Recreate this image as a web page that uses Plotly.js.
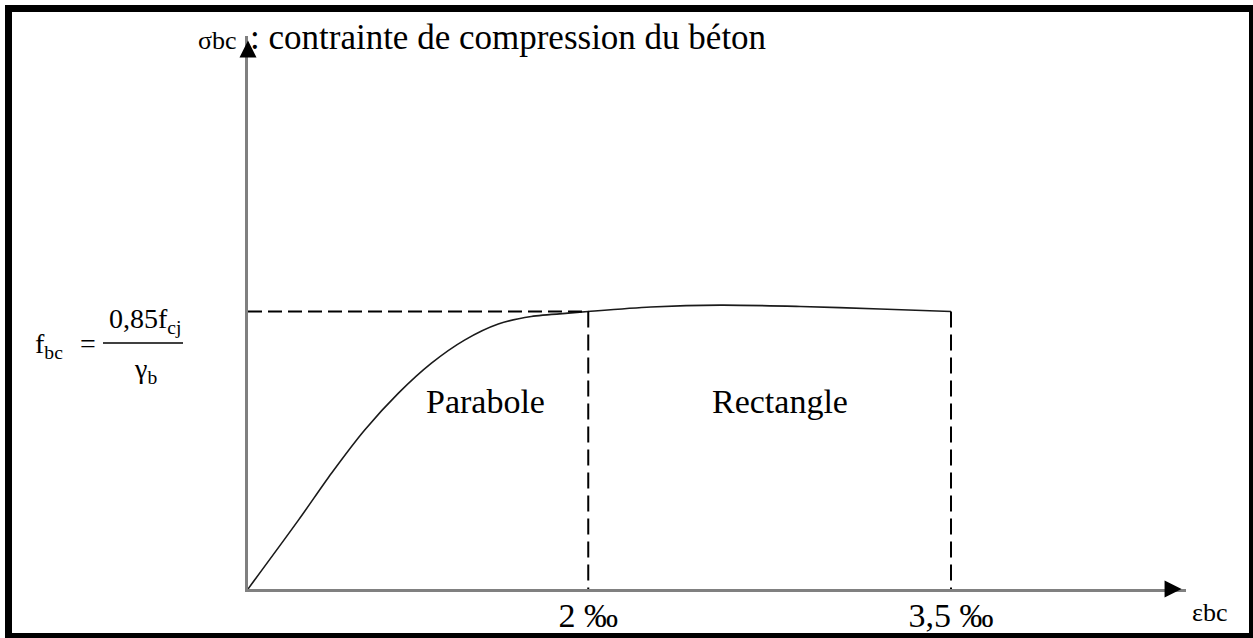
<!DOCTYPE html>
<html>
<head>
<meta charset="utf-8">
<script src="https://cdn.plot.ly/plotly-3.0.1.min.js"></script>
<style>
  html, body { margin: 0; padding: 0; background: #ffffff; }
  #chart { width: 1253px; height: 638px; }
</style>
</head>
<body>
<div id="chart"></div>
<script>
// ---- data (strain axis in drawing units: 3,5 ‰ end = 1) ----
const strainPos = [0, 0.072, 0.119, 0.166, 0.214, 0.261, 0.308, 0.356, 0.403, 0.460, 0.484, 0.573, 0.672, 0.786, 0.899, 1.0];
const stressVal = [0, 0.249, 0.418, 0.573, 0.706, 0.814, 0.897, 0.955, 0.982, 0.995, 1.0, 1.016, 1.023, 1.018, 1.009, 1.0];
const fbcLevel = 1.0;
const parabolaEnd = 0.484;   // 2 ‰
const rectangleEnd = 1.0;    // 3,5 ‰
const tickPos = [parabolaEnd, rectangleEnd];
const tickLabels = ['2 ‰', '3,5 ‰'];
const regionLabels = ['Parabole', 'Rectangle'];
const yAxisTitle = ': contrainte de compression du béton';
const yAxisSymbol = 'σbc';
const xAxisSymbol = 'εbc';

// ---- layout geometry ----
const W = 1253, H = 638;
const M = {l: 248, r: 67, t: 36, b: 49};
const PW = W - M.l - M.r, PH = H - M.t - M.b;
const xUnitPx = 951 - M.l;          // px per strain drawing unit
const yUnitPx = (H - M.b) - 311.5;  // px per stress unit
const xMax = PW / xUnitPx;
const yMax = PH / yUnitPx;
const xp = px => (px - M.l) / PW;
const yp = py => (H - M.b - py) / PH;

const serif = 'Liberation Serif, Times New Roman, serif';
const ink = '#000000';

const traces = [
  { x: strainPos, y: stressVal, type: 'scatter', mode: 'lines',
    line: {color: '#1a1a1a', width: 1.6, shape: 'spline', smoothing: 0.8}, hoverinfo: 'skip' },
  { x: [0, parabolaEnd], y: [fbcLevel, fbcLevel], type: 'scatter', mode: 'lines',
    line: {color: '#000', width: 2, dash: '14px,6px'}, hoverinfo: 'skip' },
  { x: [parabolaEnd, parabolaEnd], y: [fbcLevel, 0], type: 'scatter', mode: 'lines',
    line: {color: '#000', width: 2, dash: '16px,7px'}, hoverinfo: 'skip' },
  { x: [rectangleEnd, rectangleEnd], y: [fbcLevel, 0], type: 'scatter', mode: 'lines',
    line: {color: '#000', width: 2, dash: '16px,7px'}, hoverinfo: 'skip' }
];

const headScale = 3.4;
const tipOver = 1.3 * headScale;

const annotations = [
  // arrowheads
  { x: xMax - tipOver / xUnitPx, y: 0, xref: 'x', yref: 'y', text: '', showarrow: true,
    ax: -18, ay: 0, arrowhead: 2, arrowwidth: 2, arrowsize: headScale / 2, arrowcolor: '#000' },
  { x: 0, y: yMax - tipOver / yUnitPx, xref: 'x', yref: 'y', text: '', showarrow: true,
    ax: 0, ay: 18, arrowhead: 2, arrowwidth: 2, arrowsize: headScale / 2, arrowcolor: '#000' },
  // axis symbols and title
  { x: xp(239), y: yp(41), xref: 'paper', yref: 'paper', xanchor: 'right', yanchor: 'middle',
    text: yAxisSymbol, showarrow: false, font: {family: serif, size: 26, color: ink} },
  { x: xp(248), y: yp(37), xref: 'paper', yref: 'paper', xanchor: 'left', yanchor: 'middle',
    text: yAxisTitle, showarrow: false, font: {family: serif, size: 35, color: ink} },
  { x: xp(1190), y: yp(612), xref: 'paper', yref: 'paper', xanchor: 'left', yanchor: 'middle',
    text: xAxisSymbol, showarrow: false, font: {family: serif, size: 26, color: ink} },
  // region labels
  { x: xp(485), y: yp(401), xref: 'paper', yref: 'paper', xanchor: 'center', yanchor: 'middle',
    text: regionLabels[0], showarrow: false, font: {family: serif, size: 34, color: ink} },
  { x: xp(780), y: yp(401), xref: 'paper', yref: 'paper', xanchor: 'center', yanchor: 'middle',
    text: regionLabels[1], showarrow: false, font: {family: serif, size: 34, color: ink} },
  // f_bc formula
  { x: xp(33), y: yp(346), xref: 'paper', yref: 'paper', xanchor: 'left', yanchor: 'middle',
    text: 'f<sub>bc</sub>', showarrow: false, font: {family: serif, size: 28, color: ink} },
  { x: xp(88), y: yp(343), xref: 'paper', yref: 'paper', xanchor: 'center', yanchor: 'middle',
    text: '=', showarrow: false, font: {family: serif, size: 28, color: ink} },
  { x: xp(145), y: yp(320), xref: 'paper', yref: 'paper', xanchor: 'center', yanchor: 'middle',
    text: '0,85f<sub>cj</sub>', showarrow: false, font: {family: serif, size: 28, color: ink} },
  { x: xp(145), y: yp(370), xref: 'paper', yref: 'paper', xanchor: 'center', yanchor: 'middle',
    text: 'γ<sub>b</sub>', showarrow: false, font: {family: serif, size: 28, color: ink} }
];

const shapes = [
  // fraction bar
  { type: 'line', xref: 'paper', yref: 'paper', x0: xp(103), x1: xp(183), y0: yp(343), y1: yp(343),
    line: {color: '#000', width: 1.5} },
  // outer frame
  { type: 'rect', xref: 'paper', yref: 'paper', x0: xp(8.5), x1: xp(1252.5), y0: yp(636.5), y1: yp(8.5),
    line: {color: '#000', width: 7}, fillcolor: 'rgba(0,0,0,0)', layer: 'above' }
];

const layout = {
  width: W, height: H,
  margin: {l: M.l, r: M.r, t: M.t, b: M.b, pad: 0},
  paper_bgcolor: '#ffffff', plot_bgcolor: '#ffffff',
  showlegend: false,
  xaxis: {
    range: [0, xMax], showgrid: false, zeroline: false,
    showline: true, linecolor: '#808080', linewidth: 3,
    ticks: '', tickvals: tickPos, ticktext: tickLabels,
    tickfont: {family: serif, size: 34, color: ink},
    ticklabelstandoff: -6, fixedrange: true
  },
  yaxis: {
    range: [0, yMax], showgrid: false, zeroline: false,
    showline: true, linecolor: '#808080', linewidth: 3,
    ticks: '', showticklabels: false, fixedrange: true
  },
  annotations: annotations,
  shapes: shapes
};

Plotly.newPlot('chart', traces, layout, {staticPlot: true, displayModeBar: false});
</script>
</body>
</html>
